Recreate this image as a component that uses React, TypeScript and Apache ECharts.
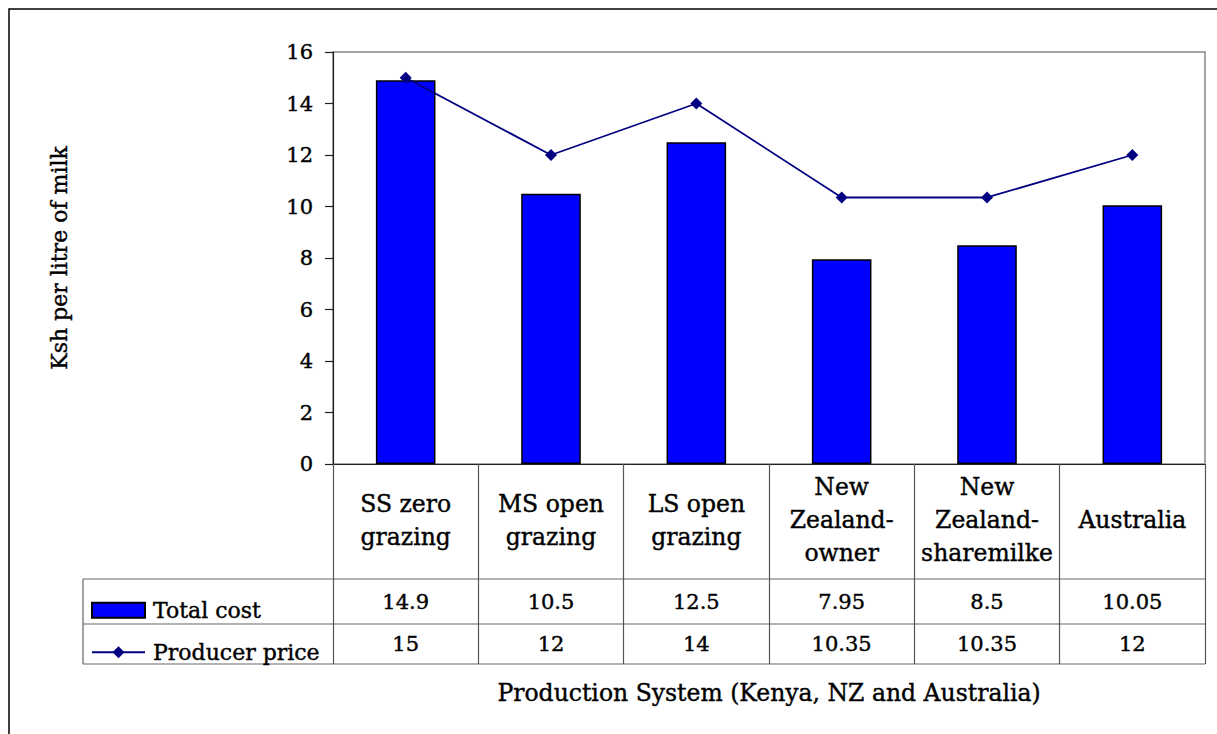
import React, { useEffect, useRef } from "react";
import * as echarts from "echarts";

const categories = [
  "SS zero\ngrazing",
  "MS open\ngrazing",
  "LS open\ngrazing",
  "New\nZealand-\nowner",
  "New\nZealand-\nsharemilke",
  "Australia",
];
const totalCost = [14.9, 10.5, 12.5, 7.95, 8.5, 10.05];
const producerPrice = [15, 12, 14, 10.35, 10.35, 12];
const yTicks = { min: 0, max: 16, interval: 2 };

const FONT = "'DejaVu Serif', serif";

export default function App() {
  const ref = useRef<HTMLDivElement>(null);
  useEffect(() => {
    if (!ref.current) return;
    const chart = echarts.init(ref.current, null, { renderer: "svg" });
    const heavy = { textBorderColor: "#000", textBorderWidth: 0.4 };
    const textBase = { fontFamily: FONT, fontSize: 22, color: "#000", ...heavy };
    const wideText = { fontFamily: FONT, fontSize: 23.5, color: "#000", ...heavy };
    const numBase = { fontFamily: FONT, fontSize: 21, color: "#000", ...heavy };
    const tableLine = { stroke: "#666", lineWidth: 1.2 };
    chart.setOption({
      animation: false,
      backgroundColor: "#fff",
      textStyle: { fontFamily: FONT },
      grid: {
        left: 333,
        top: 52,
        right: 12,
        bottom: 270,
        show: true,
        borderColor: "#888",
        borderWidth: 1.5,
      },
      legend: [
        {
          data: [{ name: "Total cost", icon: "rect" }],
          left: 91,
          top: 599,
          itemWidth: 53,
          itemHeight: 15,
          padding: 0,
          selectedMode: false,
          textStyle: { ...textBase, padding: [0, 0, 0, 3] },
        },
        {
          data: ["Producer price"],
          left: 91,
          top: 641,
          itemWidth: 53,
          itemHeight: 15,
          padding: 0,
          selectedMode: false,
          textStyle: { ...textBase, padding: [0, 0, 0, 3] },
        },
      ],
      xAxis: [
        {
          type: "category",
          data: categories,
          position: "bottom",
          axisLine: { show: true, lineStyle: { color: "#222", width: 1.2 } },
          axisTick: {
            show: true,
            length: 200,
            lineStyle: { color: "#555", width: 1.2 },
          },
          axisLabel: {
            ...wideText,
            interval: 0,
            margin: 56,
            verticalAlign: "middle",
            lineHeight: 33,
            align: "center",
          },
        },
        {
          type: "category",
          data: totalCost.map(String),
          position: "bottom",
          offset: 138,
          axisLine: { show: false },
          axisTick: { show: false },
          axisLabel: { ...numBase, interval: 0, margin: 0, verticalAlign: "middle" },
        },
        {
          type: "category",
          data: producerPrice.map(String),
          position: "bottom",
          offset: 180,
          axisLine: { show: false },
          axisTick: { show: false },
          axisLabel: { ...numBase, interval: 0, margin: 0, verticalAlign: "middle" },
          name: "Production System (Kenya, NZ and Australia)",
          nameLocation: "middle",
          nameGap: 37,
          nameTextStyle: wideText,
        },
      ],
      yAxis: {
        type: "value",
        min: yTicks.min,
        max: yTicks.max,
        interval: yTicks.interval,
        splitLine: { show: false },
        axisLine: { show: true, lineStyle: { color: "#222", width: 1.2 } },
        axisTick: { show: true, length: 8, lineStyle: { color: "#222", width: 1.2 } },
        axisLabel: { ...numBase, margin: 20 },
        name: "Ksh per litre of milk",
        nameLocation: "middle",
        nameRotate: 90,
        nameGap: 263,
        nameTextStyle: textBase,
      },
      series: [
        {
          name: "Total cost",
          type: "bar",
          data: totalCost,
          xAxisIndex: 0,
          barWidth: "41%",
          itemStyle: { color: "#0000FF", borderColor: "#000", borderWidth: 1.5 },
        },
        {
          name: "Producer price",
          type: "line",
          data: producerPrice,
          xAxisIndex: 0,
          symbol: "diamond",
          symbolSize: 12,
          lineStyle: { color: "#000080", width: 1.8 },
          itemStyle: { color: "#000080" },
        },
      ],
      graphic: [
        {
          type: "rect",
          shape: { x: 9, y: 9, width: 1400, height: 900 },
          style: { fill: "none", stroke: "#000", lineWidth: 1.5 },
          silent: true,
        },
        { type: "line", shape: { x1: 83, y1: 579, x2: 1205, y2: 579 }, style: tableLine },
        { type: "line", shape: { x1: 83, y1: 624, x2: 1205, y2: 624 }, style: tableLine },
        { type: "line", shape: { x1: 83, y1: 664, x2: 1205, y2: 664 }, style: tableLine },
        { type: "line", shape: { x1: 83, y1: 579, x2: 83, y2: 664 }, style: tableLine },
      ],
    });
    return () => chart.dispose();
  }, []);
  return (
    <div
      ref={ref}
      style={{ position: "absolute", left: 0, top: 0, width: 1217, height: 734 }}
    />
  );
}
